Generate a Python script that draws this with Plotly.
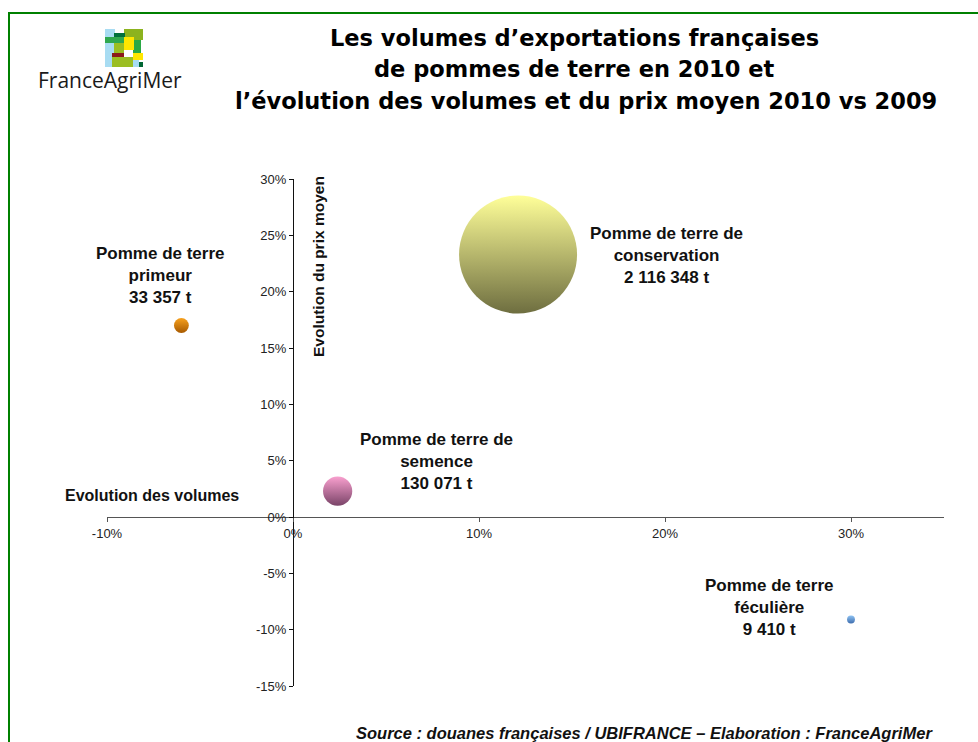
import plotly.graph_objects as go

# ---------------- data ----------------
categories = ["Pomme de terre primeur", "Pomme de terre de conservation",
              "Pomme de terre de semence", "Pomme de terre féculière"]
label_names = [["Pomme de terre", "primeur"],
               ["Pomme de terre de", "conservation"],
               ["Pomme de terre de", "semence"],
               ["Pomme de terre", "féculière"]]
volumes_t = [33357, 2116348, 130071, 9410]
evol_volumes_pct = [-6.0, 12.1, 2.4, 30.0]
evol_prix_pct = [17.0, 23.3, 2.3, -9.1]
x_tick_vals = [-10, 0, 10, 20, 30]
y_tick_vals = [-15, -10, -5, 0, 5, 10, 15, 20, 25, 30]
x_tick_text = [f"{v}%" for v in x_tick_vals]
y_tick_text = [f"{v}%" for v in y_tick_vals]

# ---------------- styles ----------------
top_colors = ["#F7A11E", "#FFFF99", "#F9A0CF", "#8EC2F2"]
bottom_colors = ["#A85A00", "#6E6E40", "#7A4468", "#3E6DAE"]
ARIAL = "Liberation Sans, Arial, sans-serif"

W, H = 978, 742
ML, MR, MT, MB = 107, 34, 179, 56
PW, PH = W - ML - MR, H - MT - MB
X_RANGE = [-10, 35]
Y_RANGE = [-15, 30]


def px(xp):
    return (xp - ML) / PW


def py(yp):
    return (H - MB - yp) / PH


max_diam = 118
sizeref = 2.0 * max(volumes_t) / (max_diam ** 2)

fig = go.Figure()
fig.add_trace(go.Scatter(
    x=evol_volumes_pct, y=evol_prix_pct, mode="markers",
    text=categories,
    marker=dict(size=volumes_t, sizemode="area", sizeref=sizeref,
                color=top_colors, opacity=1,
                line=dict(width=0),
                gradient=dict(type="vertical", color=bottom_colors)),
    hoverinfo="text", showlegend=False))

annotations = []

# bubble labels (centre positions in data units)
label_pos = [(-7.15, 21.4), (20.1, 23.25), (7.74, 4.9), (25.6, -8.0)]
for names, vol, (lx, ly) in zip(label_names, volumes_t, label_pos):
    vol_txt = f"{vol:,}".replace(",", " ") + " t"
    annotations.append(dict(
        x=lx, y=ly, xref="x", yref="y", showarrow=False,
        text="<br>".join(names + [vol_txt]), align="center",
        xanchor="center", yanchor="middle",
        font=dict(family=ARIAL, size=17, color="#111", weight="bold")))

# title lines
title_lines = [("Les volumes d’exportations françaises", 574, 38),
               ("de pommes de terre en 2010 et", 574, 69),
               ("l’évolution des volumes et du prix moyen 2010 vs 2009", 586, 101)]
for t, xc, yc in title_lines:
    annotations.append(dict(
        x=px(xc), y=py(yc), xref="paper", yref="paper", showarrow=False,
        text=t, xanchor="center", yanchor="middle",
        font=dict(family="DejaVu Sans, sans-serif", size=22.5, color="#000",
                  weight="bold")))

# axis titles
annotations.append(dict(
    x=px(63), y=py(495), xref="paper", yref="paper", showarrow=False,
    text="Evolution des volumes", xanchor="left", yanchor="middle",
    font=dict(family=ARIAL, size=16, color="#111", weight="bold")))
annotations.append(dict(
    x=px(318), y=py(267), xref="paper", yref="paper", showarrow=False,
    text="Evolution du prix moyen", textangle=-90,
    xanchor="center", yanchor="middle",
    font=dict(family=ARIAL, size=15.5, color="#111", weight="bold")))

# source
annotations.append(dict(
    x=px(644), y=py(733), xref="paper", yref="paper", showarrow=False,
    text="Source : douanes françaises / UBIFRANCE – Elaboration : FranceAgriMer",
    xanchor="center", yanchor="middle",
    font=dict(family=ARIAL, size=16.5, color="#111", weight="bold",
              style="italic")))

# logo text
annotations.append(dict(
    x=px(110), y=py(80), xref="paper", yref="paper", showarrow=False,
    text="FranceAgriMer", xanchor="center", yanchor="middle",
    font=dict(family="Open Sans, sans-serif", size=21, color="#1a1a1a")))

shapes = []
# green frame
shapes.append(dict(type="rect", xref="paper", yref="paper",
                   x0=px(9), y0=py(13), x1=px(W + 20), y1=py(H + 20),
                   line=dict(color="#008000", width=2), fillcolor="rgba(0,0,0,0)",
                   layer="above"))
# logo blocks (pixel rects)
logo_blocks = [
    (105, 29, 115, 67, "#A8DCF2"),
    (124, 29, 143, 40, "#8CB31E"),
    (114, 33, 125, 38, "#00703C"),
    (105, 37, 125, 43, "#2FA84F"),
    (114, 43, 124, 53, "#9BBE22"),
    (133, 40, 141, 53, "#2AA845"),
    (124, 37, 134, 50, "#FFE600"),
    (112, 53, 124, 57, "#8B1A1A"),
    (133, 53, 143, 60, "#FFE600"),
    (112, 57, 133, 67, "#9BBE22"),
    (133, 60, 139, 67, "#A8DCF2"),
    (139, 62, 143, 67, "#006633"),
]
for x0, y0, x1, y1, c in logo_blocks:
    shapes.append(dict(type="rect", xref="paper", yref="paper",
                       x0=px(x0), y0=py(y0), x1=px(x1), y1=py(y1),
                       line=dict(width=0), fillcolor=c, layer="above"))

axis_common = dict(showgrid=False, zeroline=False, showline=True,
                   linewidth=1, ticks="outside",
                   ticklen=4, tickmode="array",
                   tickfont=dict(family=ARIAL, size=13, color="#222"),
                   fixedrange=True)

fig.update_layout(
    width=W, height=H,
    margin=dict(l=ML, r=MR, t=MT, b=MB, pad=0),
    paper_bgcolor="white", plot_bgcolor="white",
    xaxis=dict(range=X_RANGE, tickvals=x_tick_vals, ticktext=x_tick_text,
               anchor="free", linecolor="#555", tickcolor="#555",
               position=(0 - Y_RANGE[0]) / (Y_RANGE[1] - Y_RANGE[0]),
               **axis_common),
    yaxis=dict(range=Y_RANGE, tickvals=y_tick_vals, ticktext=y_tick_text,
               anchor="free", linecolor="#111", tickcolor="#111",
               position=(0 - X_RANGE[0]) / (X_RANGE[1] - X_RANGE[0]),
               **axis_common),
    annotations=annotations, shapes=shapes,
)

fig.write_html("out.html", config={"displayModeBar": False},
               post_script="document.body.style.margin='0';document.body.style.overflow='hidden';")
